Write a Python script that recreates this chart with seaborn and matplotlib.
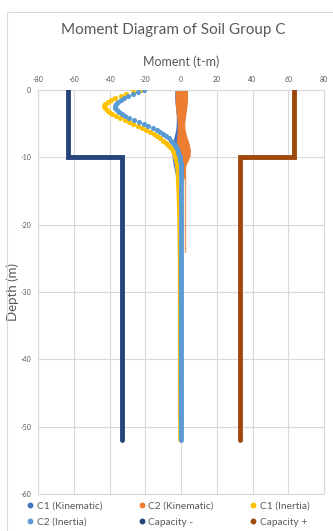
import matplotlib
matplotlib.use("Agg")
import matplotlib.pyplot as plt
import seaborn as sns
import pandas as pd
from matplotlib.lines import Line2D
from matplotlib.patches import Rectangle

# ---- inertia moment profiles near the pile head (depth in m, moment in t-m)
inertia_depth = [0.0, -0.3, -0.6, -0.9, -1.2, -1.5, -1.8, -2.1, -2.4, -2.7,
                 -3.0, -3.3, -3.6, -3.9, -4.2, -4.5, -4.8, -5.1, -5.4, -5.7,
                 -6.0, -6.3, -6.6, -6.9, -7.2, -7.5, -7.8, -8.1, -8.4, -8.7,
                 -9.0, -9.3, -9.6, -9.9, -10.2, -10.5, -10.8, -11.1, -11.4, -11.7,
                 -12.0]
c1_inertia = [-22.5, -26.8, -30.5, -33.8, -36.8, -39.2, -41.0, -42.3, -42.9, -42.6,
              -41.6, -40.2, -38.4, -36.3, -34.1, -31.6, -29.2, -26.7, -24.2, -21.9,
              -19.8, -17.5, -15.3, -13.4, -11.6, -10.0, -8.6, -7.2, -6.0, -5.1,
              -4.3, -3.8, -3.4, -3.1, -2.9, -2.7, -2.5, -2.3, -2.1, -1.9,
              -1.7]
c2_inertia = [-20.5, -23.8, -26.8, -29.5, -31.9, -33.8, -35.3, -36.4, -36.9, -36.7,
              -35.9, -34.7, -33.1, -31.3, -29.0, -26.2, -23.5, -20.8, -18.2, -15.8,
              -13.6, -11.6, -9.8, -8.2, -6.8, -5.6, -4.5, -3.6, -2.9, -2.3,
              -1.8, -1.4, -1.1, -0.8, -0.6, -0.4, -0.2, -0.1, 0.0, 0.1,
              0.2]

# deeper part of the inertia profiles
tail_depth = [-12.0, -15.0, -18.0, -25.0, -35.0, -45.0, -52.0]
c1_inertia_tail = [-1.7, -1.2, -0.8, -0.4, -0.3, -0.2, -0.2]
c2_inertia_tail = [0.2, 0.2, 0.2, 0.2, 0.2, 0.2, 0.2]

# ---- kinematic moment envelopes (min / max over the record)
kin_depth = [0.0, -1.0, -2.0, -3.0, -4.0, -5.0, -6.0, -7.0, -8.0, -9.0,
             -9.7, -10.5, -11.0, -12.0, -13.0]
c1_kin_min = [-1.8, -1.9, -1.7, -1.3, -1.0, -1.0, -1.3, -2.2, -3.0, -3.4,
              -3.4, -3.1, -2.8, -2.0, -1.2]
c1_kin_max = [2.4, 2.5, 2.2, 1.7, 1.2, 0.8, 0.9, 1.4, 1.9, 2.1,
              1.9, 1.5, 1.1, 0.5, 0.3]
c2_kin_min = [-1.5, -1.7, -1.6, -1.2, -0.8, -0.4, -0.4, -0.7, -1.0, -1.1,
              -1.0, -0.3, 0.4, 1.0, 1.0]
c2_kin_max = [2.4, 2.6, 2.4, 2.0, 1.5, 1.0, 1.2, 2.1, 3.4, 4.2,
              4.1, 2.9, 1.9, 1.2, 1.1]
# small residual kinematic moments further down the pile
c1_kin_tail_depth = [-13.0, -48.5]
c1_kin_tail = [-1.4, -1.4]
c2_kin_tail_depth = [-12.0, -24.0]
c2_kin_tail = [2.1, 2.1]

# ---- section capacity
cap_depth = [0.0, -10.0, -10.0, -52.0]
cap_neg = [-63.0, -63.0, -33.0, -33.0]
cap_pos = [63.0, 63.0, 33.0, 33.0]

x_ticks = [-80, -60, -40, -20, 0, 20, 40, 60, 80]
y_ticks = [0, -10, -20, -30, -40, -50, -60]

labels = ["C1 (Kinematic)", "C2 (Kinematic)", "C1 (Inertia)",
          "C2 (Inertia)", "Capacity -", "Capacity +"]
colors = ["#4472C4", "#ED7D31", "#FFC000", "#5B9BD5", "#264478", "#9E480E"]

sns.set_theme(style="white")
fam = ["Lato", "DejaVu Sans"]
plt.rcParams["font.family"] = fam
text_grey = "#595959"
grid_grey = "#D9D9D9"

W, H = 333, 531
fig = plt.figure(figsize=(W / 100, H / 100), dpi=100)
fig.patch.set_facecolor("white")
ax = fig.add_axes([38 / W, 1 - 494 / H, 286 / W, 404 / H])

ms_pt = 3.7          # marker diameter in points
line_w = 3.5


def path(xv, yv, color, **kw):
    """Draw a profile in the given point order, without aggregation."""
    df = pd.DataFrame({"m": xv, "d": yv})
    sns.lineplot(data=df, x="m", y="d", sort=False, estimator=None,
                 ax=ax, color=color, **kw)


# kinematic envelopes as filled bands with rounded edges
for lo, hi, c in [(c1_kin_min, c1_kin_max, colors[0]),
                  (c2_kin_min, c2_kin_max, colors[1])]:
    xs = list(lo) + list(hi)[::-1]
    ys = list(kin_depth) + list(kin_depth)[::-1]
    ax.fill(xs, ys, facecolor=c, edgecolor=c, linewidth=line_w,
            joinstyle="round", zorder=2)

path(c1_kin_tail, c1_kin_tail_depth, colors[0], linewidth=0.9, alpha=0.6,
     zorder=2)
path(c2_kin_tail, c2_kin_tail_depth, colors[1], linewidth=1.0, alpha=0.8,
     zorder=2)

# inertia profiles: markers near the head, dense column below
for vals, tail, c in [(c1_inertia, c1_inertia_tail, colors[2]),
                      (c2_inertia, c2_inertia_tail, colors[3])]:
    path(tail, tail_depth, c, linewidth=line_w, solid_capstyle="round",
         zorder=3)
    sns.scatterplot(x=vals, y=inertia_depth, ax=ax, color=c, s=ms_pt ** 2,
                    linewidth=0, zorder=3)

# capacity lines
for vals, c in [(cap_neg, colors[4]), (cap_pos, colors[5])]:
    path(vals, cap_depth, c, linewidth=line_w, solid_capstyle="round",
         solid_joinstyle="miter", zorder=4)

ax.set_xlim(-80, 80)
ax.set_ylim(-60, 0)
ax.set_xticks(x_ticks)
ax.set_xticklabels([str(v) for v in x_ticks])
ax.set_yticks(y_ticks)
ax.set_yticklabels([str(v) for v in y_ticks])
ax.xaxis.tick_top()
ax.xaxis.set_label_position("top")
ax.tick_params(axis="both", length=0, labelsize=5, labelcolor=text_grey)
ax.tick_params(axis="x", pad=5)
ax.tick_params(axis="y", pad=5)
ax.grid(True, color=grid_grey, linewidth=0.8)
ax.set_axisbelow(True)
for sp in ax.spines.values():
    sp.set_visible(True)
    sp.set_color(grid_grey)
    sp.set_linewidth(0.8)

ax.set_xlabel("Moment (t-m)", fontsize=9, color=text_grey, labelpad=7,
              family=fam)
ax.set_ylabel("Depth (m)", fontsize=9.5, color=text_grey, family=fam,
              va="center")
ax.yaxis.set_label_coords(-0.09, 0.5)

fig.text(173 / W, 1 - 30 / H, "Moment Diagram of Soil Group C",
         ha="center", va="center", fontsize=11, color=text_grey, family=fam)

# legend, laid out row by row
handles = [Line2D([], [], marker="o", linestyle="", color=c, markersize=3.2)
           for c in colors]
order = [0, 3, 1, 4, 2, 5]
fig.legend([handles[i] for i in order], [labels[i] for i in order],
           ncol=3, loc="upper left", bbox_to_anchor=(25 / W, 1 - 501 / H),
           frameon=False, fontsize=7.3, labelcolor=text_grey,
           handletextpad=0.15, handlelength=1.0, columnspacing=3.4,
           labelspacing=0.75, borderaxespad=0, borderpad=0)

# chart area border
fig.patches.append(Rectangle((7 / W, -0.1), 1.2, 1 - 12 / H + 0.1,
                             transform=fig.transFigure, fill=False,
                             edgecolor=grid_grey, linewidth=0.8))

fig.savefig("out.png", dpi=100, facecolor="white")
